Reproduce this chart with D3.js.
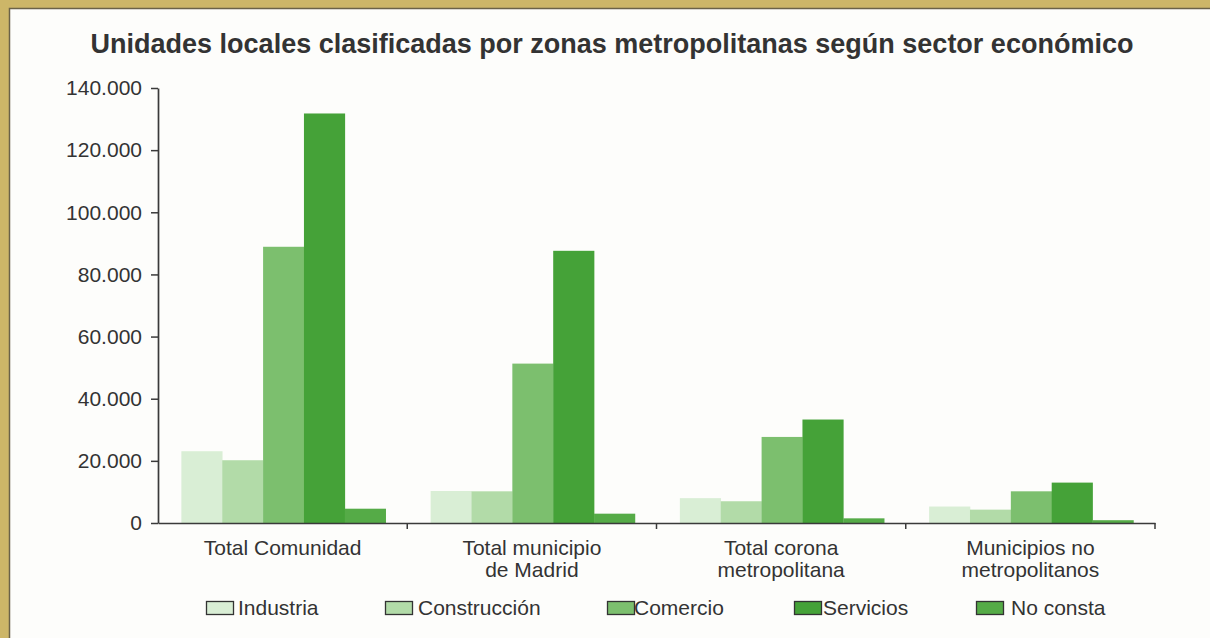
<!DOCTYPE html>
<html>
<head>
<meta charset="utf-8">
<script src="https://cdn.jsdelivr.net/npm/d3@7"></script>
<style>
  html, body { margin: 0; padding: 0; background: #fdfdfb; }
  #container { width: 1210px; height: 638px; position: relative; overflow: hidden; }
  text { font-family: "Liberation Sans", Arial, Helvetica, sans-serif; fill: #333; }
</style>
</head>
<body>
<div id="container"></div>
<script>
// DATA
const categories = ["Total Comunidad", "Total municipio de Madrid", "Total corona metropolitana", "Municipios no metropolitanos"];
const categoryLines = [["Total Comunidad"], ["Total municipio", "de Madrid"], ["Total corona", "metropolitana"], ["Municipios no", "metropolitanos"]];
const sectors = ["Industria", "Construcción", "Comercio", "Servicios", "No consta"];
const industria    = [23100, 10300, 8000, 5300];
const construccion = [20200, 10200, 7000, 4300];
const comercio     = [88900, 51300, 27700, 10200];
const servicios    = [131800, 87600, 33300, 13000];
const noConsta     = [4600, 3000, 1500, 900];
const yTicks = [0, 20000, 40000, 60000, 80000, 100000, 120000, 140000];

const series = [industria, construccion, comercio, servicios, noConsta];
const colors = ["#d9eed5", "#b2dba8", "#7cbf6e", "#45a238", "#55ab47"];

// layout
const w = 1210, h = 638;
const margin = {top: 88, right: 55, bottom: 115, left: 158};
const legendPos = [{x: 206, tx: 238}, {x: 385, tx: 418}, {x: 607, tx: 634}, {x: 794, tx: 823}, {x: 976, tx: 1011}];

const es = d3.formatLocale({decimal: ",", thousands: ".", grouping: [3], currency: ["", " €"]});
const fmt = es.format(",.0f");

const chart = d3.select('#container')
                .append('svg')
                .attr('width', w)
                .attr('height', h);

// frame (gold edge on top and left like the scanned page)
chart.append('rect').attr('x', 0).attr('y', 0).attr('width', w).attr('height', h).attr('fill', '#fdfdfb');
chart.append('rect').attr('x', 0).attr('y', 0).attr('width', w).attr('height', 8).attr('fill', '#cdb668');
chart.append('rect').attr('x', 0).attr('y', 0).attr('width', 9).attr('height', h).attr('fill', '#cdb668');
chart.append('path').attr('d', `M9.5,${h} V8.5 H${w}`).attr('fill', 'none').attr('stroke', '#6b6248').attr('stroke-width', 1.5);

// TITLE
chart.append('text')
     .attr('x', 612)
     .attr('y', 53)
     .attr('text-anchor', 'middle')
     .style('font-size', '27px')
     .style('font-weight', 'bold')
     .text("Unidades locales clasificadas por zonas metropolitanas según sector económico");

// SCALES
const x = d3.scaleBand()
            .domain(categories)
            .range([margin.left, w - margin.right])
            .padding(0);

const xInner = d3.scaleBand()
                 .domain(sectors)
                 .range([0, x.bandwidth()])
                 .paddingInner(0)
                 .paddingOuter(0.55)
                 .align(0.52);

const y = d3.scaleLinear()
            .domain([0, 140000])
            .range([h - margin.bottom, margin.top]);

// BARS
const groups = chart.selectAll('g.group')
                    .data(categories).enter()
                    .append('g')
                    .attr('class', 'group')
                    .attr('transform', d => `translate(${x(d)},0)`);

groups.selectAll('rect')
      .data((d, ci) => sectors.map((s, si) => ({sector: s, value: series[si][ci], color: colors[si]})))
      .enter()
      .append('rect')
      .attr('x', d => xInner(d.sector))
      .attr('width', xInner.bandwidth() + 0.3)
      .attr('y', d => y(d.value))
      .attr('height', d => y(0) - y(d.value))
      .attr('fill', d => d.color);

// Y AXIS
const yAxis = d3.axisLeft(y)
                .tickValues(yTicks)
                .tickFormat(d => fmt(d))
                .tickSize(7)
                .tickSizeOuter(0)
                .tickPadding(9);

const yG = chart.append('g')
                .attr('transform', `translate(${margin.left},0)`)
                .call(yAxis);
yG.selectAll('text').style('font-size', '21px').attr('fill', '#333');
yG.selectAll('line').attr('stroke', '#3a3a3a').attr('stroke-width', 1.5);
yG.select('.domain').attr('stroke', '#3a3a3a').attr('stroke-width', 1.7);

// X AXIS (labels at band centres, ticks at band edges)
const xAxis = d3.axisBottom(x).tickSize(0).tickFormat('');
const xG = chart.append('g')
                .attr('transform', `translate(0,${y(0)})`)
                .call(xAxis);
xG.select('.domain').attr('stroke', '#3a3a3a').attr('stroke-width', 1.7);

xG.selectAll('line.edge')
  .data(categories).enter()
  .append('line')
  .attr('class', 'edge')
  .attr('x1', d => x(d) + x.bandwidth())
  .attr('x2', d => x(d) + x.bandwidth())
  .attr('y1', 0)
  .attr('y2', 6)
  .attr('stroke', '#3a3a3a')
  .attr('stroke-width', 1.5);

const catLabels = chart.selectAll('text.cat')
                       .data(categories).enter()
                       .append('text')
                       .attr('class', 'cat')
                       .attr('text-anchor', 'middle')
                       .style('font-size', '21px')
                       .attr('x', d => x(d) + x.bandwidth() / 2)
                       .attr('y', 555);
catLabels.selectAll('tspan')
         .data((d, i) => categoryLines[i])
         .enter()
         .append('tspan')
         .attr('x', function() { return this.parentNode.getAttribute('x'); })
         .attr('dy', (d, i) => i === 0 ? 0 : 22)
         .text(d => d);

// LEGEND
const legend = chart.append('g').attr('id', 'legend');
const items = legend.selectAll('g')
                    .data(sectors).enter()
                    .append('g');
items.append('rect')
     .attr('x', (d, i) => legendPos[i].x + 0.5)
     .attr('y', 601.5)
     .attr('width', 27)
     .attr('height', 13)
     .attr('fill', (d, i) => colors[i])
     .attr('stroke', '#333')
     .attr('stroke-width', 1.3);
items.append('text')
     .attr('x', (d, i) => legendPos[i].tx)
     .attr('y', 615)
     .style('font-size', '21px')
     .text(d => d);
</script>
</body>
</html>
